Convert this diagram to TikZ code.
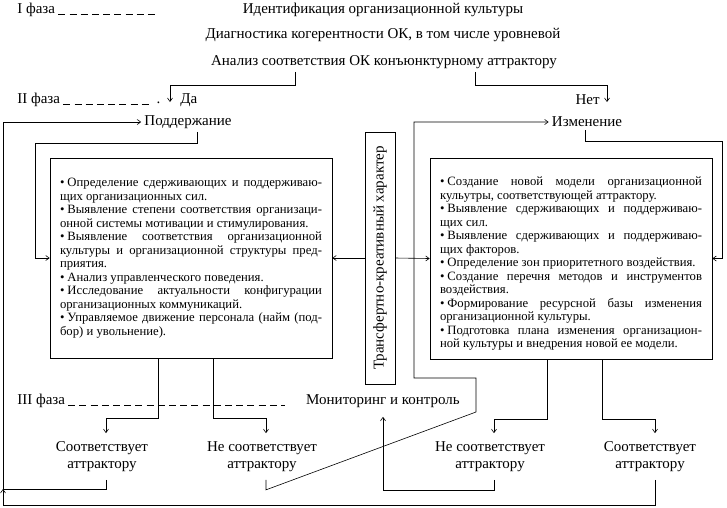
\documentclass[tikz,border=0pt]{standalone}
\usepackage{fontspec}
\setmainfont{Liberation Serif}
\usetikzlibrary{arrows.meta}
\newcommand{\itm}{•\kern3pt}
\begin{document}
\begin{tikzpicture}[x=1pt,y=-1pt,line width=0.6pt,
        lbl/.style={inner sep=3pt,font=\fontsize{15}{17}\selectfont},
        res/.style={lbl,align=center,inner ysep=8pt},
        listbox/.style={draw,minimum width=282pt,minimum height=200pt,inner xsep=10pt,inner ysep=6pt,
            text width=262pt,align=justify,font=\fontsize{12.7}{13.5}\selectfont},
        arr/.style={-{Straight Barb[length=3.5pt,width=5pt]}},
        phase/.style={dash pattern=on 7pt off 4.2pt}]
    \useasboundingbox (0,0) rectangle (727,507);
    \node[lbl,anchor=west] (ph1) at (14,10) {I фаза};
    \node[lbl] (ident) at (383,10) {Идентификация организационной культуры};
    \node[lbl] (diag) at (383,35) {Диагностика когерентности ОК, в том числе уровневой};
    \node[lbl] (anal) at (384,62) {Анализ соответствия ОК конъюнктурному аттрактору};
    \node[lbl,anchor=west] (ph2) at (14,100) {II фаза};
    \node[lbl,anchor=west] (yes) at (177,100) {Да};
    \node[lbl,anchor=east] (no) at (603,100) {Нет};
    \node[lbl] (supp) at (188,122) {Поддержание};
    \node[lbl] (chg) at (587,122) {Изменение};
    \node[draw,rotate=90,minimum width=252pt,minimum height=30pt,inner sep=2pt,
        font=\fontsize{15}{17}\selectfont] (trans) at (380,258) {Трансфертно-креативный характер};
    \node[listbox] (boxL) at (191,258) {\itm Определение сдерживающих и поддерживаю-\linebreak щих организационных сил.\par
        \itm Выявление степени соответствия организаци-\linebreak онной системы мотивации и стимулирования.\par
        \itm Выявление соответствия организационной\linebreak культуры и организационной структуры пред-\linebreak приятия.\par
        \itm Анализ управленческого поведения.\par
        \itm Исследование актуальности конфигурации\linebreak организационных коммуникаций.\par
        \itm Управляемое движение персонала (найм (под-\linebreak бор) и увольнение).};
    \node[listbox,minimum height=201pt] (boxR) at (571,258.5) {\rule{0pt}{19pt}\itm Создание новой модели организационной\linebreak кульутры, соответствующей аттрактору.\par
        \itm Выявление сдерживающих и поддерживаю-\linebreak щих сил.\par
        \itm Выявление сдерживающих и поддерживаю-\linebreak щих факторов.\par
        \itm Определение зон приоритетного воздействия.\par
        \itm Создание перечня методов и инструментов\linebreak воздействия.\par
        \itm Формирование ресурсной базы изменения\linebreak организационной культуры.\par
        \itm Подготовка плана изменения организацион-\linebreak ной культуры и внедрения новой ее модели.};
    \node[lbl,anchor=west] (ph3) at (14,401) {III фаза};
    \node[lbl] (mon) at (383,401) {Мониторинг и контроль};
    \node[res] (okL) at (102,456.5) {Соответствует\\аттрактору};
    \node[res] (nokL) at (262,456.5) {Не соответствует\\аттрактору};
    \node[res] (nokR) at (490,456.5) {Не соответствует\\аттрактору};
    \node[res] (okR) at (650,456.5) {Соответствует\\аттрактору};
    \coordinate (ret) at (3,489);
    \coordinate (bend) at (476,412);
    \draw[phase] ([yshift=-1pt]ph1.base east) -- ++(97,0);
    \draw[phase] ([yshift=-1pt]ph2.base east) -- ++(86,0);
    \node[lbl,anchor=base west,inner sep=0pt] (ph2dot) at ([xshift=93pt]ph2.base east) {.};
    \draw[phase] ([yshift=-1pt]ph3.base east) -- ++(217,0);
    \draw[arr] ([xshift=-89pt]anal.south) -- ++(0,13) -| ([xshift=-7pt,yshift=-2pt]yes.west);
    \draw[arr] ([xshift=91pt]anal.south) -- ++(0,13) -| ([xshift=4pt,yshift=-2pt]no.east);
    \draw[arr] ([xshift=9pt]supp.south) -- ++(0,11) -| ([xshift=-14pt]boxL.west) -- (boxL.west);
    \draw[arr] ([xshift=-2pt]chg.south) -- ++(0,11) -| ([xshift=10pt]boxR.east) -- (boxR.east);
    \draw[arr] (trans.north) -- (boxL.east);
    \draw[arr] (trans.south) -- (boxR.west);
    \draw[arr] ([xshift=-33pt]boxL.south) |- ([xshift=4pt,yshift=15pt]okL.north) -- ([xshift=4pt]okL.north);
    \draw[arr] ([xshift=22pt]boxL.south) |- ([xshift=4pt,yshift=15pt]nokL.north) -- ([xshift=4pt]nokL.north);
    \draw[arr] ([xshift=-24pt]boxR.south) |- ([xshift=4pt,yshift=14pt]nokR.north) -- ([xshift=4pt]nokR.north);
    \draw[arr] ([xshift=31pt]boxR.south) |- ([xshift=5pt,yshift=14pt]okR.north) -- ([xshift=5pt]okR.north);
    \draw ([xshift=4pt]okL.south) |- (ret);
    \draw[arr] ([xshift=5pt]okR.south) -- ++(0,25) -| (ret);
    \draw[arr] (ret) |- (supp.west);
    \draw[arr] ([xshift=4pt]nokL.south) -- ++(0,10) -- (bend) -- ++(0,-34) -- ++(-62,0) |- (chg.west);
    \draw[arr] ([xshift=4pt]nokR.south) -- ++(0,10) -| ([yshift=-6pt]mon.south);
\end{tikzpicture}
\end{document}
